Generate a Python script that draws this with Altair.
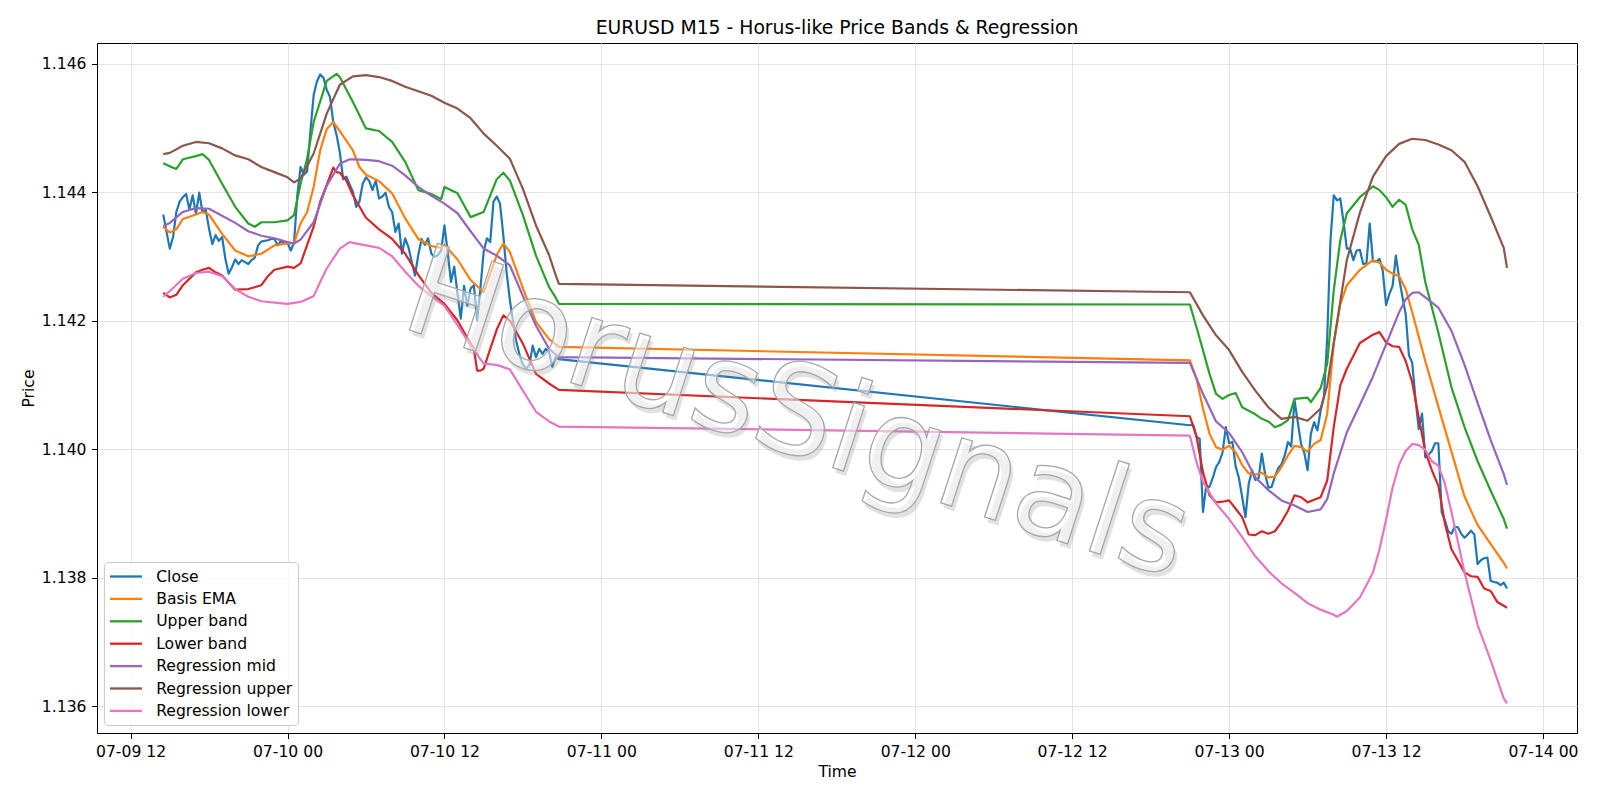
import altair as alt
import pandas as pd

TITLE = "EURUSD M15 - Horus-like Price Bands & Regression"
SERIES = ["Close", "Basis EMA", "Upper band", "Lower band",
          "Regression mid", "Regression upper", "Regression lower"]
COLORS = ["#1f77b4", "#ff7f0e", "#2ca02c", "#d62728",
          "#9467bd", "#8c564b", "#e377c2"]

# Close, 15-minute bars (session 1 starts 07-09 14:30, session 2 starts 07-12 21:00)
close_left = [
    1.14365, 1.14338, 1.14312, 1.14330, 1.14369, 1.14385, 1.14392, 1.14397,
    1.14373, 1.14395, 1.14366, 1.14399, 1.14369, 1.14372, 1.14343, 1.14319,
    1.14333, 1.14324, 1.14330, 1.14296, 1.14273, 1.14283, 1.14295, 1.14288,
    1.14294, 1.14291, 1.14288, 1.14294, 1.14298, 1.14317, 1.14323, 1.14324,
    1.14325, 1.14327, 1.14327, 1.14317, 1.14324, 1.14319, 1.14321, 1.14309,
    1.14321, 1.14395, 1.14439, 1.14427, 1.14432, 1.14494, 1.14551, 1.14572,
    1.14583, 1.14578, 1.14559, 1.14548, 1.14509, 1.14489, 1.14462, 1.14420,
    1.14424, 1.14412, 1.14400, 1.14377, 1.14385, 1.14413, 1.14423, 1.14417,
    1.14403, 1.14418, 1.14390, 1.14393, 1.14399, 1.14377, 1.14369, 1.14338,
    1.14351, 1.14304, 1.14328, 1.14314, 1.14291, 1.14270, 1.14302, 1.14327,
    1.14318, 1.14328, 1.14304, 1.14299, 1.14302, 1.14309, 1.14348, 1.14306,
    1.14260, 1.14284, 1.14242, 1.14203, 1.14254, 1.14223, 1.14250, 1.14255,
    1.14200, 1.14250, 1.14307, 1.14328, 1.14322, 1.14385, 1.14393, 1.14382,
    1.14333, 1.14276, 1.14232, 1.14198, 1.14167, 1.14146, 1.14131, 1.14125,
    1.14131, 1.14161, 1.14143, 1.14156, 1.14148, 1.14156, 1.14151, 1.14128,
    1.14143, 1.14140,
]
close_right = [
    1.14037, 1.14038, 1.14019, 1.14016, 1.13902, 1.13943, 1.13941, 1.13955,
    1.13972, 1.13980, 1.13995, 1.14034, 1.14009, 1.14011, 1.13973, 1.13955,
    1.13925, 1.13894, 1.13946, 1.13967, 1.13952, 1.13954, 1.13993, 1.13961,
    1.13940, 1.13941, 1.13957, 1.13970, 1.13976, 1.13990, 1.14011, 1.14004,
    1.14076, 1.14042, 1.14008, 1.13994, 1.13967, 1.14024, 1.14042, 1.14029,
    1.14060, 1.14081, 1.14174, 1.14325, 1.14395, 1.14387, 1.14390, 1.14353,
    1.14312, 1.14312, 1.14294, 1.14309, 1.14310, 1.14288, 1.14289, 1.14351,
    1.14292, 1.14292, 1.14296, 1.14277, 1.14224, 1.14241, 1.14254, 1.14301,
    1.14266, 1.14237, 1.14210, 1.14146, 1.14134, 1.14078, 1.14031, 1.14055,
    1.13987, 1.13991, 1.13997, 1.14009, 1.14009, 1.13902, 1.13889, 1.13872,
    1.13868, 1.13879, 1.13878, 1.13868, 1.13862, 1.13867, 1.13873, 1.13867,
    1.13821, 1.13827, 1.13830, 1.13831, 1.13795, 1.13793, 1.13792, 1.13788,
    1.13792, 1.13783,
]

# Smooth series: hours after 07-09 12:00 and read values
ema_h = [2.5, 3, 3.5, 4, 5, 5.5, 6, 7, 8, 9, 10, 11, 12, 12.5, 13, 13.5, 14, 14.5, 15, 15.5,
         16, 17, 17.5, 18, 19, 20, 21, 22, 23, 23.75, 24, 25, 26, 27, 28, 28.5, 29, 30, 31, 32, 32.75,
         81, 81.5, 82, 82.5, 83, 83.5, 84, 84.5, 85, 85.5, 86, 86.5, 87, 87.5, 88, 88.5, 89, 89.5, 90, 90.5,
         91, 91.5, 92, 92.5, 93, 94, 95, 95.5, 96, 96.5, 97, 97.5, 98, 98.5, 99, 100, 101, 102, 103, 104,
         105, 105.25]
ema_v = [1.14346, 1.14337, 1.14342, 1.14358, 1.14365, 1.14369, 1.14365, 1.14335, 1.14309, 1.14300,
         1.14304, 1.14317, 1.14320, 1.14320, 1.14351, 1.14369, 1.14408, 1.14465, 1.14498, 1.14509,
         1.14495, 1.14465, 1.14439, 1.14427, 1.14417, 1.14398, 1.14359, 1.14327, 1.14316, 1.14313,
         1.14318, 1.14295, 1.14263, 1.14244, 1.14302, 1.14320, 1.14307, 1.14250, 1.14198, 1.14171, 1.14159,
         1.14138, 1.14110, 1.14063, 1.14024, 1.14003, 1.13999, 1.14005, 1.13995, 1.13975, 1.13962,
         1.13960, 1.13963, 1.13956, 1.13957, 1.13972, 1.13990, 1.14005, 1.14003, 1.13996, 1.14008,
         1.14014, 1.14055, 1.14164, 1.14225, 1.14255, 1.14279, 1.14294, 1.14290, 1.14279, 1.14273,
         1.14269, 1.14249, 1.14213, 1.14175, 1.14137, 1.14066, 1.13996, 1.13926, 1.13882, 1.13852,
         1.13823, 1.13814]

upper_h = [2.5, 3, 3.5, 4, 5, 5.5, 6, 7, 8, 9, 9.5, 10, 11, 12, 12.5, 13, 13.5, 14, 15, 15.75, 16,
           17, 18, 19, 20, 21, 22, 23, 23.75, 24, 25, 26, 27, 28, 28.5, 29, 30, 31, 32, 32.5, 32.75,
           81, 81.5, 82, 82.5, 83, 83.5, 84, 84.5, 85, 86, 86.5, 87, 87.5, 88, 88.5, 89, 90, 90.25, 91, 91.5,
           92, 92.5, 93, 94, 95, 95.5, 96, 96.5, 97, 97.5, 98, 98.5, 99, 100, 101, 102, 103, 104, 105, 105.25]
upper_v = [1.14445, 1.14440, 1.14436, 1.14451, 1.14456, 1.14459, 1.14450, 1.14413, 1.14377, 1.14351,
           1.14346, 1.14353, 1.14353, 1.14356, 1.14364, 1.14413, 1.14452, 1.14509, 1.14573, 1.14584, 1.14579,
           1.14540, 1.14499, 1.14495, 1.14478, 1.14447, 1.14403, 1.14397, 1.14389, 1.14408, 1.14398,
           1.14361, 1.14369, 1.14420, 1.14430, 1.14418, 1.14364, 1.14301, 1.14252, 1.14236, 1.14226,
           1.14225, 1.14190, 1.14154, 1.14117, 1.14086, 1.14078, 1.14084, 1.14087, 1.14065, 1.14054,
           1.14047, 1.14043, 1.14034, 1.14038, 1.14045, 1.14078, 1.14080, 1.14073, 1.14095, 1.14133,
           1.14247, 1.14325, 1.14367, 1.14392, 1.14409, 1.14403, 1.14392, 1.14377, 1.14388, 1.14380,
           1.14342, 1.14318, 1.14260, 1.14181, 1.14096, 1.14034, 1.13981, 1.13935, 1.13891, 1.13876]

lower_h = [2.5, 3, 3.5, 4, 5, 5.5, 6, 6.5, 7, 8, 9, 10, 10.5, 11, 12, 12.5, 13, 14, 14.5, 15,
           15.5, 15.75, 16, 16.5, 17, 18, 19, 20, 21, 22, 23, 24, 25, 26, 26.25, 26.5, 26.75, 27, 27.5, 28,
           28.5, 29, 30, 31, 32, 32.75,
           81, 81.5, 82, 82.5, 83, 83.5, 84, 84.5, 85, 85.5, 86, 86.5, 87, 87.5, 88, 88.5, 89, 89.5, 90, 90.5,
           91, 91.5, 92, 92.5, 93, 94, 95, 95.5, 96, 96.5, 97, 97.5, 98, 98.5, 99, 99.5, 100, 100.5, 101, 101.5,
           102, 102.5, 103, 103.5, 104, 104.5, 105, 105.25]
lower_v = [1.14243, 1.14236, 1.14240, 1.14255, 1.14275, 1.14279, 1.14282, 1.14275, 1.14270, 1.14248,
           1.14249, 1.14255, 1.14269, 1.14279, 1.14284, 1.14282, 1.14289, 1.14346, 1.14385, 1.14411,
           1.14438, 1.14431, 1.14430, 1.14418, 1.14395, 1.14360, 1.14342, 1.14327, 1.14304, 1.14271,
           1.14243, 1.14226, 1.14200, 1.14164, 1.14156, 1.14122, 1.14122, 1.14125, 1.14156, 1.14186,
           1.14208, 1.14200, 1.14164, 1.14117, 1.14102, 1.14092,
           1.14051, 1.14020, 1.13964, 1.13928, 1.13917, 1.13918, 1.13920, 1.13907, 1.13894, 1.13867,
           1.13866, 1.13872, 1.13868, 1.13872, 1.13886, 1.13904, 1.13928, 1.13925, 1.13917, 1.13921,
           1.13925, 1.13951, 1.14034, 1.14099, 1.14125, 1.14165, 1.14178, 1.14182, 1.14166, 1.14160,
           1.14159, 1.14137, 1.14104, 1.14049, 1.13996, 1.13967, 1.13943, 1.13884, 1.13844, 1.13826,
           1.13808, 1.13802, 1.13801, 1.13783, 1.13779, 1.13762, 1.13756, 1.13753]

mid_h = [2.5, 3, 4, 5, 6, 7, 8, 9, 10, 11, 12, 12.5, 13, 14, 15, 16, 16.75, 17, 18, 19,
         20, 21, 22, 23, 24, 25, 26, 27, 28, 29, 30, 31, 32, 32.75,
         81, 82, 83, 84, 85, 86, 87, 88, 89, 90, 91, 91.5, 92, 93, 94, 95, 96, 97, 97.5, 98,
         98.5, 99, 100, 101, 102, 103, 104, 105, 105.25]
mid_v = [1.14347, 1.14352, 1.14369, 1.14375, 1.14374, 1.14363, 1.14352, 1.14339, 1.14332, 1.14328,
         1.14322, 1.14320, 1.14326, 1.14353, 1.14410, 1.14444, 1.14451, 1.14451, 1.14450, 1.14448,
         1.14441, 1.14426, 1.14408, 1.14394, 1.14382, 1.14367, 1.14339, 1.14312, 1.14301, 1.14286,
         1.14238, 1.14192, 1.14156, 1.14143,
         1.14134, 1.14086, 1.14043, 1.14025, 1.13995, 1.13956, 1.13936, 1.13920, 1.13912, 1.13902,
         1.13906, 1.13922, 1.13962, 1.14026, 1.14069, 1.14113, 1.14163, 1.14213, 1.14233, 1.14243,
         1.14244, 1.14236, 1.14220, 1.14184, 1.14131, 1.14072, 1.14014, 1.13961, 1.13944]

rup_h = [2.5, 3, 4, 5, 6, 7, 8, 9, 10, 11, 12, 12.5, 13, 14, 15, 16, 17, 18, 19, 20,
         21, 22, 23, 24, 25, 26, 27, 28, 29, 30, 31, 32, 32.5, 32.75,
         81, 82, 83, 84, 85, 86, 87, 88, 89, 90, 91, 91.5, 92, 93, 94, 95, 96, 97, 98, 99, 100,
         101, 102, 103, 104, 105, 105.25]
rup_v = [1.14459, 1.14461, 1.14472, 1.14478, 1.14476, 1.14468, 1.14457, 1.14451, 1.14439, 1.14431,
         1.14423, 1.14415, 1.14421, 1.14460, 1.14522, 1.14567, 1.14580, 1.14582, 1.14579, 1.14573,
         1.14564, 1.14557, 1.14550, 1.14539, 1.14530, 1.14515, 1.14491, 1.14472, 1.14452, 1.14405,
         1.14348, 1.14302, 1.14271, 1.14257,
         1.14244, 1.14208, 1.14177, 1.14154, 1.14120, 1.14091, 1.14065, 1.14047, 1.14050, 1.14044,
         1.14063, 1.14099, 1.14165, 1.14294, 1.14368, 1.14424, 1.14456, 1.14475, 1.14483, 1.14481,
         1.14474, 1.14465, 1.14447, 1.14409, 1.14362, 1.14313, 1.14282]

rlo_h = [2.5, 3, 4, 5, 6, 7, 8, 9, 10, 11, 12, 13, 14, 14.5, 15, 16, 16.75, 17, 18, 19,
         20, 21, 22, 23, 24, 25, 26, 27, 28, 29, 30, 31, 32, 32.75,
         81, 81.5, 82, 83, 84, 85, 86, 87, 88, 89, 90, 91, 92, 92.25, 93, 94, 95, 95.5, 96, 96.5,
         97, 97.5, 98, 98.5, 99, 99.5, 100, 100.5, 101, 102, 103, 104, 105, 105.25]
rlo_v = [1.14237, 1.14246, 1.14265, 1.14274, 1.14276, 1.14269, 1.14249, 1.14237, 1.14230, 1.14228,
         1.14226, 1.14229, 1.14238, 1.14260, 1.14281, 1.14312, 1.14322, 1.14321, 1.14317, 1.14313,
         1.14300, 1.14276, 1.14254, 1.14238, 1.14223, 1.14193, 1.14161, 1.14133, 1.14131, 1.14124,
         1.14091, 1.14058, 1.14043, 1.14035,
         1.14021, 1.13980, 1.13949, 1.13915, 1.13891, 1.13863, 1.13833, 1.13810, 1.13791, 1.13776,
         1.13760, 1.13750, 1.13742, 1.13739, 1.13748, 1.13769, 1.13808, 1.13844, 1.13890, 1.13940,
         1.13976, 1.13997, 1.14008, 1.14006, 1.13999, 1.13981, 1.13974, 1.13946, 1.13902, 1.13808,
         1.13726, 1.13671, 1.13612, 1.13604]

# ---- build long table ----
base = pd.Timestamp("2025-07-09 12:00")
rows = []
t_left = pd.date_range("2025-07-09 14:30", periods=len(close_left), freq="15min")
t_right = pd.date_range("2025-07-12 21:00", periods=len(close_right), freq="15min")
for t, v in zip(list(t_left) + list(t_right), close_left + close_right):
    rows.append({"time": t, "price": v, "series": "Close"})
for name, hs, vs in [("Basis EMA", ema_h, ema_v), ("Upper band", upper_h, upper_v),
                     ("Lower band", lower_h, lower_v), ("Regression mid", mid_h, mid_v),
                     ("Regression upper", rup_h, rup_v), ("Regression lower", rlo_h, rlo_v)]:
    for h, v in zip(hs, vs):
        rows.append({"time": base + pd.Timedelta(minutes=int(round(h * 60))), "price": v, "series": name})
df = pd.DataFrame(rows)

wm = pd.DataFrame({"time": [pd.Timestamp("2025-07-11 14:05")], "price": [1.13995],
                   "label": ["HorusSignals"]})
title_df = pd.DataFrame({"t": [TITLE]})

FONT = "DejaVu Sans"
x_ticks = [alt.DateTime(year=2025, month=7, date=d, hours=hh)
           for d, hh in [(9, 12), (10, 0), (10, 12), (11, 0), (11, 12), (12, 0),
                         (12, 12), (13, 0), (13, 12), (14, 0)]]

x_enc = alt.X("time:T", title="Time",
              scale=alt.Scale(domain=[alt.DateTime(year=2025, month=7, date=9, hours=9, minutes=26),
                                      alt.DateTime(year=2025, month=7, date=14, hours=2, minutes=36)],
                              nice=False),
              axis=alt.Axis(values=x_ticks, format="%m-%d %H", labelOverlap=False,
                            labelFlush=False, titlePadding=5))
y_enc = alt.Y("price:Q", title="Price",
              scale=alt.Scale(domain=[1.13558, 1.14632], nice=False, zero=False),
              axis=alt.Axis(values=[1.136, 1.138, 1.140, 1.142, 1.144, 1.146], format=".3f",
                            titlePadding=5))

lines = alt.Chart(df).mark_line(strokeWidth=2.2, strokeJoin="round").encode(
    x=x_enc, y=y_enc,
    color=alt.Color("series:N", sort=SERIES,
                    scale=alt.Scale(domain=SERIES, range=COLORS),
                    legend=alt.Legend(title=None, orient="none", legendX=7, legendY=519,
                                      direction="vertical",
                                      symbolType="M-2,0H2", symbolSize=256,
                                      symbolStrokeWidth=2.3, symbolOffset=7.5,
                                      labelOffset=20.7, padding=5, rowPadding=3.4,
                                      labelFont=FONT, labelFontSize=15.6, labelColor="black",
                                      fillColor="rgba(255,255,255,0.8)",
                                      strokeColor="#cccccc", cornerRadius=4)),
)

shadow = alt.Chart(wm).mark_text(
    font=FONT, fontSize=125, angle=18, align="center", baseline="alphabetic",
    fill="#9a9a9a", fillOpacity=0.3, dx=4, dy=4,
).encode(x=x_enc, y=y_enc, text="label:N")

mark = alt.Chart(wm).mark_text(
    font=FONT, fontSize=125, angle=18, align="center", baseline="alphabetic",
    fill="white", fillOpacity=0.5, stroke="#a8a8a8", strokeWidth=1.3,
).encode(x=x_enc, y=y_enc, text="label:N")

title_mark = alt.Chart(title_df).mark_text(
    font=FONT, fontSize=18.8, color="black", align="center", baseline="alphabetic",
).encode(x=alt.value(740), y=alt.value(-9.5), text="t:N")

chart = alt.layer(lines, shadow, mark, title_mark).properties(
    width=1480, height=690,
    padding={"left": 97, "top": 43, "right": 23, "bottom": 67},
    autosize=alt.AutoSizeParams(type="none"),
).configure_view(stroke="black", strokeWidth=1).configure_axis(
    labelFont=FONT, labelFontSize=15.6, labelColor="black",
    titleFont=FONT, titleFontSize=15.6, titleFontWeight="normal", titleColor="black",
    domainColor="black", domainWidth=1, tickColor="black", tickSize=5.5, tickWidth=1,
    labelPadding=5.5, gridColor="#e3e3e3", gridWidth=1,
)

chart.save("out.html", embed_options={"renderer": "svg", "actions": False})
